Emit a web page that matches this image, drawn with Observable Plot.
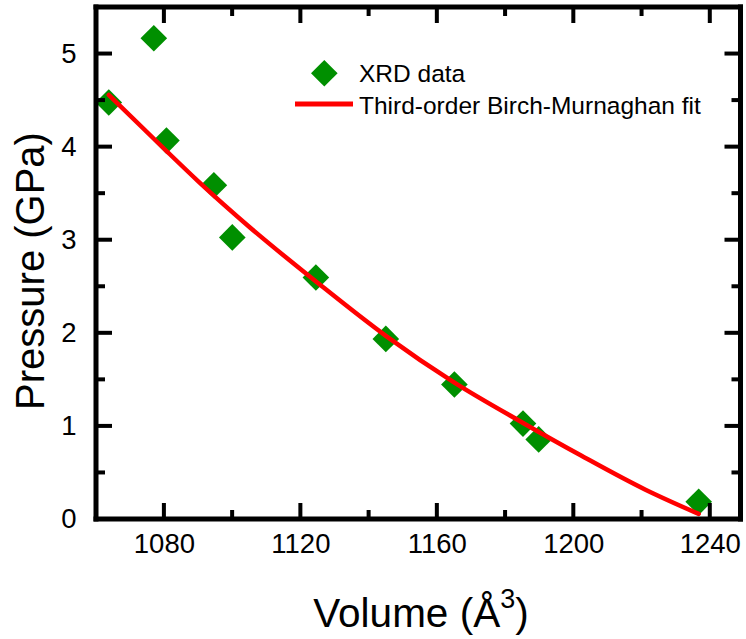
<!DOCTYPE html>
<html><head><meta charset="utf-8">
<script src="https://cdn.jsdelivr.net/npm/d3@7"></script>
<script src="https://cdn.jsdelivr.net/npm/@observablehq/plot@0.6"></script>
<style>body{margin:0;background:#fff}#chart{width:746px;height:639px}</style>
</head><body><div id="chart"></div>
<script>
// XRD data (volume in Å^3, pressure in GPa)
const volume   = [1063.7, 1076.9, 1080.6, 1094.5, 1099.9, 1124.4, 1144.9, 1165.0, 1185.1, 1189.7, 1236.6];
const pressure = [4.48,   5.17,   4.07,   3.59,   3.03,   2.60,   1.94,   1.45,   1.03,   0.86,   0.19];
// Third-order Birch-Murnaghan fit curve
const fitVolume   = [1063.7, 1080, 1090, 1105, 1125, 1145, 1165, 1185, 1202, 1221, 1236.6];
const fitPressure = [4.56,   3.98, 3.63, 3.14, 2.54, 1.97, 1.47, 1.04, 0.69, 0.32, 0.06];
// Ticks
const xMajorTicks = [1080, 1120, 1160, 1200, 1240];
const xMinorTicks = [1100, 1140, 1180, 1220];
const yMajorTicks = [0, 1, 2, 3, 4, 5];
const yMinorTicks = [0.5, 1.5, 2.5, 3.5, 4.5];
const seriesNames = ["XRD data", "Third-order Birch-Murnaghan fit"];

(function () {
const W = 746, H = 639, mL = 96, mR = 5.5, mT = 7, mB = 120;
const FONT = "'Liberation Sans', Arial, sans-serif";
const GREEN = "#008F00", RED = "#FF0000";

const points = volume.map((v, i) => ({v, p: pressure[i]}));
const fit = fitVolume.map((v, i) => ({v, p: fitPressure[i]}));

const chart = Plot.plot({
  width: W, height: H,
  marginLeft: mL, marginRight: mR, marginTop: mT, marginBottom: mB,
  x: {domain: [1060.1, 1249], axis: null},
  y: {domain: [0, 5.5], axis: null},
  style: {fontFamily: FONT, background: "white", color: "black"},
  marks: [
    Plot.dot(points, {x: "v", y: "p", symbol: "diamond2", r: 12, fill: GREEN, stroke: "none"}),
    Plot.line(fit, {x: "v", y: "p", stroke: RED, strokeWidth: 4.5, curve: "monotone-x"}),
    Plot.text(xMajorTicks, {x: d => d, text: d => `${d}`, frameAnchor: "bottom", dy: 33.5, fontSize: 27.5, fill: "black"}),
    Plot.text(yMajorTicks, {y: d => d, text: d => `${d}`, frameAnchor: "left", textAnchor: "end", dx: -20, fontSize: 27.5, fill: "black"})
  ]
});
document.getElementById("chart").appendChild(chart);

const svg = d3.select(chart);
const sx = chart.scale("x"), sy = chart.scale("y");
const X = v => sx.apply(v), Y = v => sy.apply(v);
const fLeft = mL, fRight = W - mR, fTop = mT, fBottom = H - mB;
// axis frame and inward ticks as filled rectangles
function box(x, y, w, h) {
  svg.append("rect").attr("x", Math.min(x, x + w)).attr("y", Math.min(y, y + h))
    .attr("width", Math.abs(w)).attr("height", Math.abs(h)).attr("fill", "black").attr("stroke", "none");
}
const TW = 4, FW = 5;
for (const [ticks, len] of [[xMajorTicks, 16], [xMinorTicks, 9]]) {
  for (const t of ticks) {
    const x = X(t);
    box(x - TW / 2, fBottom, TW, -len);
    box(x - TW / 2, fTop, TW, len);
  }
}
for (const [ticks, len] of [[yMajorTicks, 16], [yMinorTicks, 9]]) {
  for (const t of ticks) {
    const y = Y(t);
    box(fLeft, y - TW / 2, len, TW);
    box(fRight, y - TW / 2, -len, TW);
  }
}
box(fLeft - FW / 2, fTop - FW / 2, fRight - fLeft + FW, FW);
box(fLeft - FW / 2, fBottom - FW / 2, fRight - fLeft + FW, FW);
box(fLeft - FW / 2, fTop - FW / 2, FW, fBottom - fTop + FW);
box(fRight - FW / 2, fTop - FW / 2, FW, fBottom - fTop + FW);

// x title
const xt = svg.append("text").attr("x", 421).attr("y", 627).attr("text-anchor", "middle")
  .attr("font-family", FONT).attr("font-size", 40.5).attr("fill", "black");
xt.append("tspan").text("Volume (Å");
xt.append("tspan").attr("font-size", 27).attr("dy", -19).text("3");
xt.append("tspan").attr("dy", 19).text(")");
// y title
svg.append("text").attr("transform", "translate(44,271) rotate(-90)").attr("text-anchor", "middle")
  .attr("font-family", FONT).attr("font-size", 40).attr("fill", "black").text("Pressure (GPa)");
// legend
svg.append("path").attr("transform", "translate(324.3,73.3)")
  .attr("d", d3.symbol(d3.symbolDiamond2, Math.PI * 144)()).attr("fill", GREEN);
svg.append("text").attr("x", 359).attr("y", 82).attr("text-anchor", "start").attr("font-family", FONT)
  .attr("font-size", 24.5).attr("fill", "black").text(seriesNames[0]);
svg.append("line").attr("x1", 295).attr("x2", 353).attr("y1", 104).attr("y2", 104)
  .attr("stroke", RED).attr("stroke-width", 5);
svg.append("text").attr("x", 359).attr("y", 113.5).attr("text-anchor", "start").attr("font-family", FONT)
  .attr("font-size", 24.5).attr("fill", "black").text(seriesNames[1]);
})();
</script></body></html>
